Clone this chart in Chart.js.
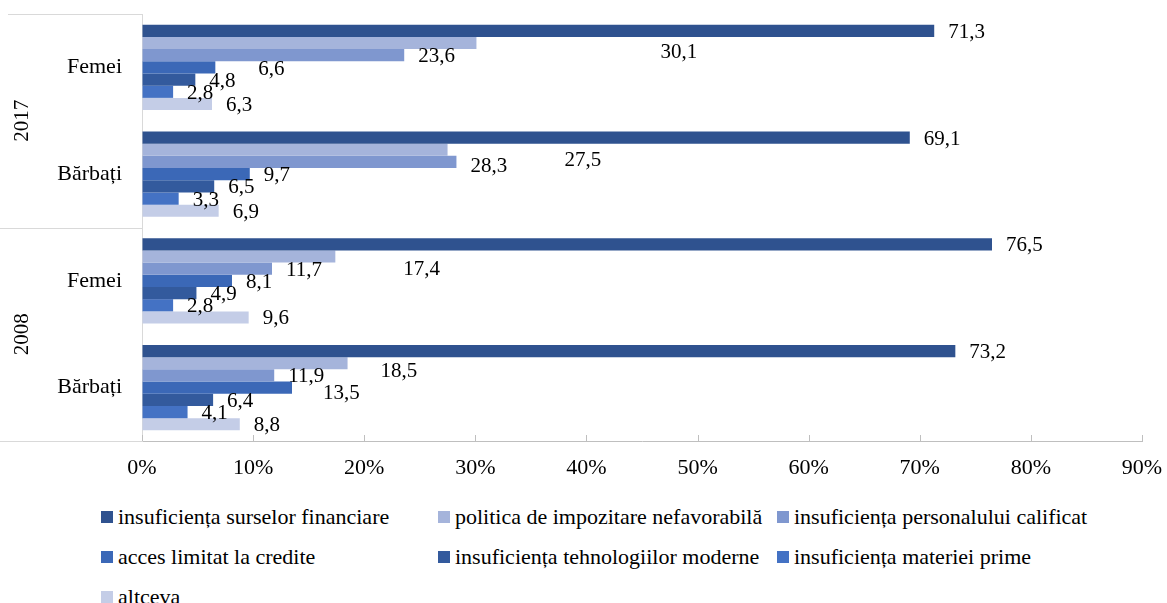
<!DOCTYPE html>
<html lang="ro">
<head>
<meta charset="utf-8">
<title>Obstacole</title>
<script src="https://cdn.jsdelivr.net/npm/chart.js@4.4.1/dist/chart.umd.min.js"></script>
<style>
    html, body { margin: 0; padding: 0; background: #fff; }
    body { width: 1167px; height: 603px; overflow: hidden; position: relative; font-family: "Liberation Serif", "Times New Roman", serif; }
    #wrap { position: absolute; left: 0; top: 0; width: 1167px; height: 497px; }
    #legend { position: absolute; left: 101px; top: 497px; display: grid; grid-template-columns: 337px 339px auto; grid-auto-rows: 40px; font-size: 22px; color: #000; }
    .item { display: flex; align-items: center; white-space: nowrap; }
    .box { width: 12px; height: 12px; margin-right: 5px; flex: none; }
</style>
</head>
<body>
<div id="wrap"><canvas id="chart" width="1167" height="497"></canvas></div>
<div id="legend"></div>
<script>
// categories, top to bottom
const years = ['2017', '2008'];
const groups = ['Femei', 'Bărbați', 'Femei', 'Bărbați'];

const seriesNames = [
    'insuficiența surselor financiare',
    'politica de impozitare nefavorabilă',
    'insuficiența personalului calificat',
    'acces limitat la credite',
    'insuficiența tehnologiilor moderne',
    'insuficiența materiei prime',
    'altceva'
];

// values in %, same order as groups
const surseFinanciare = [71.3, 69.1, 76.5, 73.2];
const impozitare = [30.1, 27.5, 17.4, 18.5];
const personalCalificat = [23.6, 28.3, 11.7, 11.9];
const credite = [6.6, 9.7, 8.1, 13.5];
const tehnologii = [4.8, 6.5, 4.9, 6.4];
const materiePrima = [2.8, 3.3, 2.8, 4.1];
const altceva = [6.3, 6.9, 9.6, 8.8];

const xTicks = [0, 10, 20, 30, 40, 50, 60, 70, 80, 90];

const seriesValues = [surseFinanciare, impozitare, personalCalificat, credite, tehnologii, materiePrima, altceva];

const seriesColors = [
    '#2F528F', // dark blue
    '#A5B4DB', // pale blue
    '#7F97CF', // light blue
    '#3B68B7', // mid blue
    '#335A9D', // steel blue
    '#4472C4', // blue
    '#C4CDE7'  // very pale
];

// labels that were hand-moved in the original
const labelNudge = {
    '0-1': { dx: 170, dy: 8 },
    '0-3': { dx: 29, dy: 0.5 },
    '1-1': { dx: 103, dy: 9.5 },
    '1-2': { dx: 0, dy: 3 },
    '2-1': { dx: 54, dy: 11.5 },
    '3-1': { dx: 19, dy: 6.5 },
    '3-3': { dx: 17, dy: 4.5 }
};

const FONT = '"Liberation Serif", "Times New Roman", serif';

function fmt(v) {
    return v.toFixed(1).replace('.', ',');
}

const decorPlugin = {
    id: 'decor',
    afterDraw(chart) {
        const ctx = chart.ctx;
        const xs = chart.scales.x;
        const ys = chart.scales.y;
        ctx.save();

        // tick marks pointing up from the value axis
        ctx.strokeStyle = '#BFBFBF';
        ctx.lineWidth = 1;
        xs.ticks.forEach(t => {
            const px = Math.round(xs.getPixelForValue(t.value)) + 0.5;
            ctx.beginPath();
            ctx.moveTo(px, ys.bottom);
            ctx.lineTo(px, ys.bottom - 6);
            ctx.stroke();
        });

        // year dividers on the left
        ctx.strokeStyle = '#D9D9D9';
        const mid = (ys.top + ys.bottom) / 2;
        [ys.top, mid, ys.bottom].forEach((yy, i) => {
            const py = Math.round(yy) + 0.5;
            ctx.beginPath();
            ctx.moveTo(i === 0 ? 8 : 0, py);
            ctx.lineTo(ys.right, py);
            ctx.stroke();
        });

        // year labels, rotated
        ctx.fillStyle = '#000';
        ctx.font = '21px ' + FONT;
        ctx.textAlign = 'center';
        ctx.textBaseline = 'middle';
        years.forEach((yr, i) => {
            const cy = i === 0 ? (ys.top + mid) / 2 : (mid + ys.bottom) / 2;
            ctx.save();
            ctx.translate(22, cy);
            ctx.rotate(-Math.PI / 2);
            ctx.fillText(yr, 0, 0);
            ctx.restore();
        });

        // value labels
        ctx.textAlign = 'left';
        chart.data.datasets.forEach((ds, di) => {
            chart.getDatasetMeta(di).data.forEach((bar, ci) => {
                const n = labelNudge[ci + '-' + di] || { dx: 0, dy: 0 };
                ctx.fillText(fmt(ds.data[ci]), bar.x + 14 + n.dx, bar.y + 1.5 + n.dy);
            });
        });

        ctx.restore();
    }
};

const chart = new Chart(document.getElementById('chart').getContext('2d'), {
    type: 'bar',
    data: {
        labels: groups,
        datasets: seriesNames.map((name, i) => ({
            label: name,
            data: seriesValues[i],
            backgroundColor: seriesColors[i],
            borderWidth: 0,
            categoryPercentage: 0.8,
            barPercentage: 1.0
        }))
    },
    options: {
        indexAxis: 'y',
        responsive: false,
        animation: false,
        layout: { padding: { top: 14, right: 25, left: 0, bottom: 0 } },
        scales: {
            x: {
                min: 0,
                max: 90,
                afterBuildTicks: scale => { scale.ticks = xTicks.map(v => ({ value: v })); },
                afterFit: scale => {
                    scale.height = 56;
                    scale.paddingLeft = 0;
                    scale.paddingRight = 0;
                },
                grid: { drawOnChartArea: false, drawTicks: false },
                border: { display: true, color: '#BFBFBF', width: 1 },
                ticks: {
                    padding: 14,
                    color: '#000',
                    font: { family: FONT, size: 22 },
                    callback: v => v + '%'
                }
            },
            y: {
                afterFit: scale => {
                    scale.width = 142;
                    scale.paddingTop = 0;
                    scale.paddingBottom = 0;
                },
                grid: { drawOnChartArea: false, drawTicks: false },
                border: { display: true, color: '#D9D9D9', width: 1 },
                ticks: {
                    padding: 20,
                    color: '#000',
                    font: { family: FONT, size: 22 }
                }
            }
        },
        plugins: {
            legend: { display: false },
            tooltip: { enabled: false }
        }
    },
    plugins: [decorPlugin]
});

// legend in three columns, like the original
const legendEl = document.getElementById('legend');
chart.data.datasets.forEach(ds => {
    const item = document.createElement('div');
    item.className = 'item';
    const box = document.createElement('span');
    box.className = 'box';
    box.style.background = ds.backgroundColor;
    const txt = document.createElement('span');
    txt.textContent = ds.label;
    item.appendChild(box);
    item.appendChild(txt);
    legendEl.appendChild(item);
});
</script>
</body>
</html>
